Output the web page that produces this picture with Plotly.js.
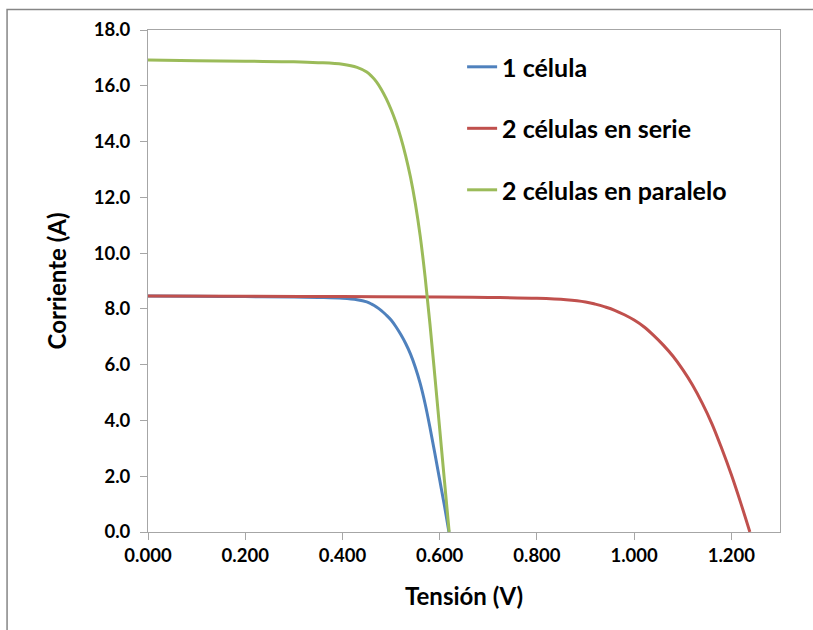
<!DOCTYPE html>
<html>
<head>
<meta charset="utf-8">
<script src="https://cdn.plot.ly/plotly-3.0.1.min.js"></script>
<style>html,body{margin:0;padding:0;background:#fff;}#chart{width:813px;height:630px;}</style>
</head>
<body>
<div id="chart"></div>
<script>
// Series names
const seriesNames = ["1 célula", "2 células en serie", "2 células en paralelo"];

// 1 célula
const v1 = [0, 0.1, 0.2, 0.3, 0.35, 0.4, 0.43, 0.45, 0.46, 0.47, 0.48, 0.49, 0.50, 0.51, 0.52, 0.53, 0.54, 0.55, 0.56, 0.57, 0.58, 0.59, 0.60, 0.61, 0.619];
const i1 = [8.46, 8.45, 8.44, 8.43, 8.41, 8.38, 8.33, 8.25, 8.17, 8.07, 7.94, 7.78, 7.60, 7.36, 7.08, 6.76, 6.38, 5.90, 5.32, 4.60, 3.75, 2.82, 1.87, 0.92, 0.0];

// 2 células en serie
const v2 = [0, 0.2, 0.4, 0.6, 0.7, 0.8, 0.86, 0.9, 0.92, 0.94, 0.96, 0.98, 1.0, 1.02, 1.04, 1.06, 1.08, 1.10, 1.12, 1.14, 1.16, 1.18, 1.20, 1.22, 1.238];
const i2 = [8.46, 8.45, 8.44, 8.43, 8.41, 8.38, 8.33, 8.25, 8.17, 8.07, 7.95, 7.79, 7.60, 7.36, 7.05, 6.70, 6.30, 5.82, 5.27, 4.62, 3.88, 3.00, 2.05, 1.00, 0.0];

// 2 células en paralelo
const v3 = [0, 0.1, 0.2, 0.3, 0.35, 0.4, 0.43, 0.45, 0.46, 0.47, 0.48, 0.49, 0.50, 0.51, 0.52, 0.53, 0.54, 0.55, 0.56, 0.57, 0.58, 0.59, 0.60, 0.61, 0.6195];
const i3 = [16.92, 16.90, 16.88, 16.86, 16.83, 16.77, 16.66, 16.49, 16.34, 16.14, 15.87, 15.54, 15.15, 14.69, 14.14, 13.49, 12.72, 11.77, 10.60, 9.15, 7.45, 5.60, 3.70, 1.80, 0.0];

const colors = ["#4F81BD", "#C0504D", "#9BBB59"];
const FONT = "Lato, 'Open Sans', sans-serif";

const xs = [v1, v2, v3], ys = [i1, i2, i3];
const traces = xs.map((x, k) => ({
  x: x, y: ys[k], type: "scatter", mode: "lines", name: seriesNames[k],
  legendgroup: "g" + k,
  line: {color: colors[k], width: 3, shape: "spline", smoothing: 1},
  hoverinfo: "skip"
}));

const axisCommon = {
  showline: true, linecolor: "#A6A6A6", linewidth: 1, mirror: true,
  showgrid: false, zeroline: false, ticks: "outside", ticklen: 7, tickcolor: "#A6A6A6",
  tickfont: {family: FONT, size: 18.5, color: "#000", weight: 700}
};

const layout = {
  width: 813, height: 630,
  margin: {l: 148, r: 33, t: 30, b: 98},
  paper_bgcolor: "#fff", plot_bgcolor: "#fff",
  font: {family: FONT, color: "#000"},
  xaxis: Object.assign({}, axisCommon, {
    range: [0, 1.3], dtick: 0.2, tick0: 0, tickformat: ".3f",
    title: {text: "Tensión (V)", font: {family: FONT, size: 24, color: "#000", weight: 700}, standoff: 22}
  }),
  yaxis: Object.assign({}, axisCommon, {
    range: [0, 18], dtick: 2, tick0: 0, tickformat: ".1f", ticklabelstandoff: 6,
    title: {text: "Corriente (A)", font: {family: FONT, size: 24, color: "#000", weight: 700}, standoff: 20}
  }),
  showlegend: true,
  legend: {
    x: 0.497, y: 0.972, xanchor: "left", yanchor: "top",
    font: {family: FONT, size: 25, color: "#000", weight: 700},
    bgcolor: "rgba(0,0,0,0)", borderwidth: 0,
    tracegroupgap: 26, itemwidth: 30
  },
  shapes: [{
    type: "rect", xref: "paper", yref: "paper",
    x0: -0.223, x1: 2, y0: -2, y1: 1.041,
    line: {color: "#868686", width: 1.5}, fillcolor: "rgba(0,0,0,0)", layer: "below"
  }]
};

Plotly.newPlot("chart", traces, layout, {displayModeBar: false, staticPlot: true});
</script>
</body>
</html>
